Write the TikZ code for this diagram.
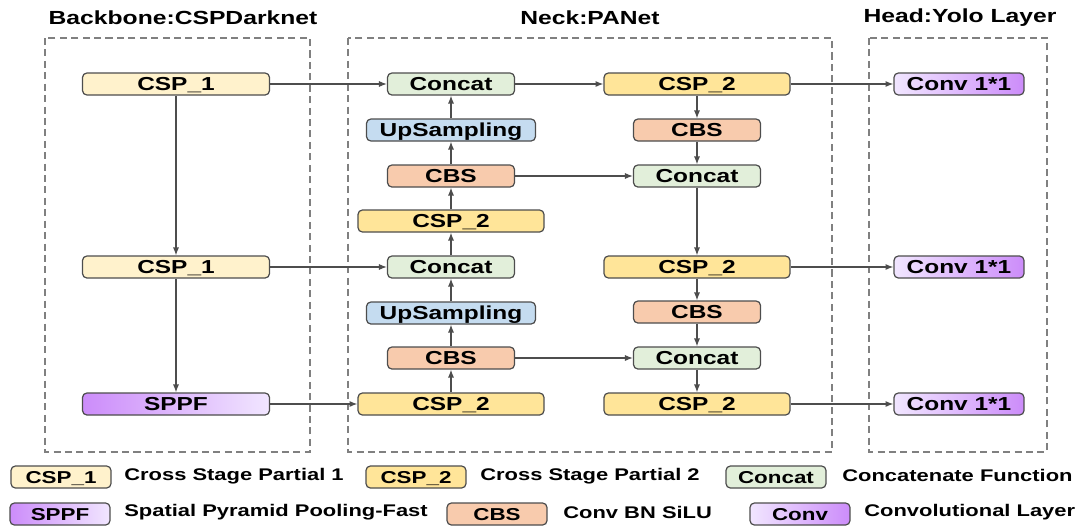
\documentclass[tikz,border=0pt]{standalone}
\usepackage{fontspec}
\setmainfont{Liberation Sans}[FakeStretch=1.3]
\usetikzlibrary{arrows.meta}

\definecolor{cspone}{HTML}{FFF2CC}
\definecolor{csptwo}{HTML}{FFE599}
\definecolor{catgreen}{HTML}{E2EFDA}
\definecolor{upblue}{HTML}{C5DCF0}
\definecolor{cbsred}{HTML}{F8CBAD}
\definecolor{convlight}{HTML}{F1E6FF}
\definecolor{convdark}{HTML}{CC8CFA}
\definecolor{edgegray}{HTML}{4D4D4D}

\tikzset{
  block/.style={draw=edgegray, line width=0.7pt, rounded corners=2.5pt, minimum height=0.44cm,
    inner sep=0pt, text height=7.6pt, text depth=0pt, font=\bfseries\fontsize{10.7}{12}\selectfont},
  cspa/.style={block, fill=cspone, minimum width=3.74cm},
  cspb/.style={block, fill=csptwo, minimum width=3.72cm},
  concat/.style={block, fill=catgreen, minimum width=2.54cm},
  upsam/.style={block, fill=upblue, minimum width=3.38cm},
  cbs/.style={block, fill=cbsred, minimum width=2.54cm},
  sppf/.style={block, left color=convdark, right color=convlight, minimum width=3.74cm},
  conv/.style={block, left color=convlight, right color=convdark, minimum width=2.6cm},
  legbox/.style={minimum width=2cm, text height=7pt, font=\bfseries\fontsize{9.8}{11}\selectfont},
  legtext/.style={anchor=west, inner sep=0pt, font=\bfseries\fontsize{9.6}{11}\selectfont},
  title/.style={font=\bfseries\fontsize{10.8}{12}\selectfont},
  arr/.style={draw=edgegray, line width=0.75pt, -{Latex[length=4.5pt,width=3.5pt]}},
  frame/.style={draw=gray, dashed, dash pattern=on 4pt off 2.5pt, line width=0.6pt}
}

\begin{document}
\begin{tikzpicture}[x=0.02cm, y=-0.02cm]
  \useasboundingbox (0,0) rectangle (1079,525);

  \node[title] (tb) at (183,18) {Backbone:CSPDarknet};
  \node[title] (tn) at (590,18) {Neck:PANet};
  \node[title] (th) at (960,18) {Head:Yolo Layer};

  \draw[frame] (45,38) rectangle (310,452);
  \draw[frame] (348,38) rectangle (832,452);
  \draw[frame] (869,38) rectangle (1047,452);

  \node[cspa] (b1) at (176,84) {CSP\_1};
  \node[cspa] (b2) at (176,267) {CSP\_1};
  \node[sppf] (b3) at (176,404) {SPPF};

  \node[concat] (c1) at (451,84) {Concat};
  \node[upsam] (u1) at (451,130) {UpSampling};
  \node[cbs] (k1) at (451,176) {CBS};
  \node[cspb] (p1) at (451,221) {CSP\_2};
  \node[concat] (c2) at (451,267) {Concat};
  \node[upsam] (u2) at (451,313) {UpSampling};
  \node[cbs] (k2) at (451,358) {CBS};
  \node[cspb] (p2) at (451,404) {CSP\_2};

  \node[cspb] (p3) at (697,84) {CSP\_2};
  \node[cbs] (k3) at (697,130) {CBS};
  \node[concat] (c3) at (697,176) {Concat};
  \node[cspb] (p4) at (697,267) {CSP\_2};
  \node[cbs] (k4) at (697,312) {CBS};
  \node[concat] (c4) at (697,358) {Concat};
  \node[cspb] (p5) at (697,404) {CSP\_2};

  \node[conv] (h1) at (959,84) {Conv 1*1};
  \node[conv] (h2) at (959,267) {Conv 1*1};
  \node[conv] (h3) at (959,404) {Conv 1*1};

  \foreach \a/\b in {b1/b2, b2/b3, b1/c1, b2/c2, b3/p2, p2/k2, k2/u2, u2/c2, c2/p1, p1/k1,
      k1/u1, u1/c1, c1/p3, p3/k3, k3/c3, c3/p4, p4/k4, k4/c4, c4/p5, k1/c3, k2/c4,
      p3/h1, p4/h2, p5/h3}
    \draw[arr] (\a) -- (\b);

  \node[cspa, legbox] (l1) at (61,477) {CSP\_1};
  \node[legtext] (d1) at (124,476) {Cross Stage Partial 1};
  \node[cspb, legbox] (l2) at (416,477) {CSP\_2};
  \node[legtext] (d2) at (480,476) {Cross Stage Partial 2};
  \node[concat, legbox] (l3) at (776,477) {Concat};
  \node[legtext] (d3) at (842,475) {Concatenate Function};

  \node[sppf, legbox] (l4) at (60,514) {SPPF};
  \node[legtext] (d4) at (124,512) {Spatial Pyramid Pooling-Fast};
  \node[cbs, legbox] (l5) at (497,514) {CBS};
  \node[legtext] (d5) at (563,512) {Conv BN SiLU};
  \node[conv, legbox] (l6) at (800,514) {Conv};
  \node[legtext] (d6) at (864,512) {Convolutional Layer};
\end{tikzpicture}
\end{document}
